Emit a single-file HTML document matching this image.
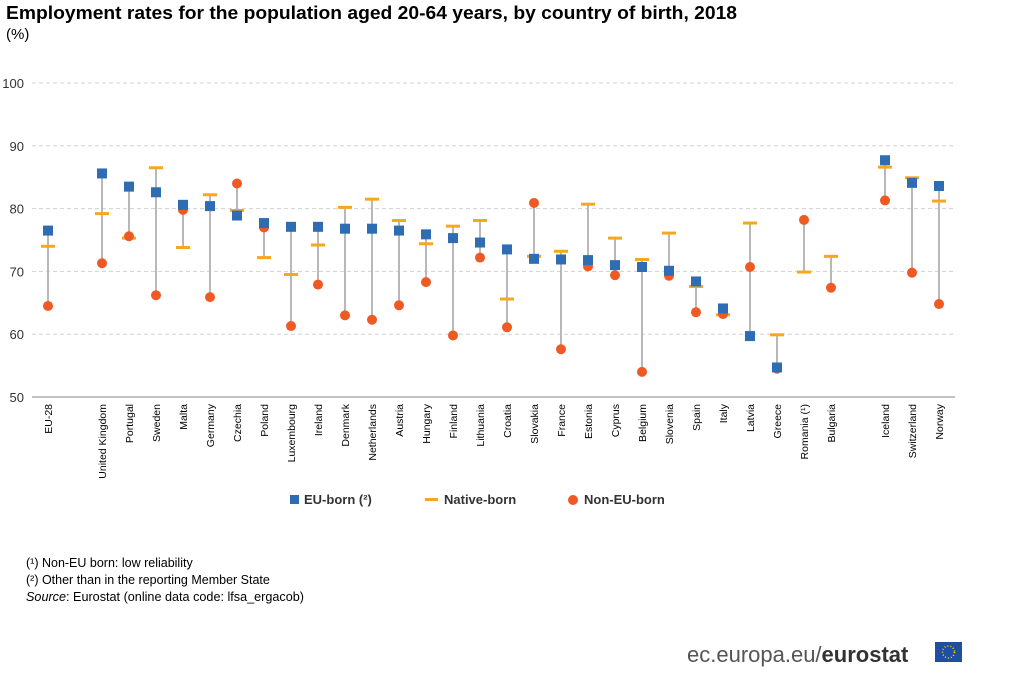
<!DOCTYPE html>
<html><head><meta charset="utf-8"><style>
body{margin:0;background:#fff;width:1024px;height:671px;overflow:hidden;font-family:"Liberation Sans",Arial,sans-serif}
</style></head><body>
<svg width="1024" height="671" xmlns="http://www.w3.org/2000/svg" font-family="Liberation Sans, Arial, sans-serif">
<text x="6" y="19" font-size="18" font-weight="bold" fill="#000" textLength="731" lengthAdjust="spacingAndGlyphs">Employment rates for the population aged 20-64 years, by country of birth, 2018</text>
<text x="6" y="39" font-size="15" fill="#000">(%)</text>
<g id="grid" stroke="#d0d0d0" stroke-dasharray="4,3"></g>
<line x1="32" y1="397" x2="955" y2="397" stroke="#888"/>
<g id="ylab" font-size="13" fill="#333" text-anchor="end"></g>
<g id="lines" stroke="#b8b8b8" stroke-width="2"></g>
<g id="pts"></g>
<g id="xlab" font-size="10.5" fill="#000"></g>
<rect x="290" y="495" width="9" height="9" fill="#2e6db4"/>
<text x="304" y="504" font-size="13" font-weight="bold" fill="#333">EU-born (²)</text>
<rect x="425" y="498" width="13" height="3" fill="#f5a81c"/>
<text x="444" y="504" font-size="13" font-weight="bold" fill="#333">Native-born</text>
<circle cx="573" cy="500" r="5" fill="#ef5a24"/>
<text x="584" y="504" font-size="13" font-weight="bold" fill="#333">Non-EU-born</text>
<g font-size="12.5" fill="#000">
<text x="26" y="567">(¹) Non-EU born: low reliability</text>
<text x="26" y="584">(²) Other than in the reporting Member State</text>
<text x="26" y="601" textLength="278" lengthAdjust="spacingAndGlyphs"><tspan font-style="italic">Source</tspan>:  Eurostat (online data code: lfsa_ergacob)</text>
</g>
<text x="687" y="662" font-size="22" fill="#555">ec.europa.eu/<tspan font-weight="bold" fill="#333">eurostat</tspan></text>
<rect x="935" y="642" width="27" height="20" fill="#1f4ea3"/>
<circle cx="948.5" cy="652" r="6" fill="none" stroke="#ffdd00" stroke-width="1.5" stroke-dasharray="1,2"/>
</svg>
<script>
const d=[["EU-28",48,76.5,74,64.5],["United Kingdom",102,85.6,79.2,71.3],["Portugal",129,83.5,75.3,75.6],["Sweden",156,82.6,86.5,66.2],["Malta",183,80.6,73.8,79.8],["Germany",210,80.4,82.2,65.9],["Czechia",237,78.9,79.7,84],["Poland",264,77.7,72.2,77],["Luxembourg",291,77.1,69.5,61.3],["Ireland",318,77.1,74.2,67.9],["Denmark",345,76.8,80.2,63],["Netherlands",372,76.8,81.5,62.3],["Austria",399,76.5,78.1,64.6],["Hungary",426,75.9,74.4,68.3],["Finland",453,75.3,77.2,59.8],["Lithuania",480,74.6,78.1,72.2],["Croatia",507,73.5,65.6,61.1],["Slovakia",534,72,72.4,80.9],["France",561,71.9,73.2,57.6],["Estonia",588,71.8,80.7,70.8],["Cyprus",615,71,75.3,69.4],["Belgium",642,70.7,71.9,54],["Slovenia",669,70.1,76.1,69.3],["Spain",696,68.4,67.6,63.5],["Italy",723,64.1,63.1,63.2],["Latvia",750,59.7,77.7,70.7],["Greece",777,54.7,59.9,54.5],["Romania (¹)",804,null,69.9,78.2],["Bulgaria",831,null,72.4,67.4],["Iceland",885,87.7,86.6,81.3],["Switzerland",912,84.1,84.9,69.8],["Norway",939,83.6,81.2,64.8]];
const Y=v=>397-(v-50)*6.28;const ns="http://www.w3.org/2000/svg";
function el(p,t,a,txt){const e=document.createElementNS(ns,t);for(const k in a)e.setAttribute(k,a[k]);if(txt)e.textContent=txt;document.getElementById(p).appendChild(e);}
for(let v=60;v<=100;v+=10)el("grid","line",{x1:32,x2:955,y1:Y(v),y2:Y(v)});
for(let v=50;v<=100;v+=10)el("ylab","text",{x:24,y:Y(v)+5},String(v));
d.forEach(([n,x,e,na,no])=>{const vs=[e,na,no].filter(v=>v!=null);el("lines","line",{x1:x,x2:x,y1:Y(Math.max(...vs)),y2:Y(Math.min(...vs))});
el("pts","rect",{x:x-7,y:Y(na)-1.5,width:14,height:3,fill:"#f5a81c"});
el("pts","circle",{cx:x,cy:Y(no),r:5,fill:"#ef5a24"});
if(e!=null)el("pts","rect",{x:x-5,y:Y(e)-5,width:10,height:10,fill:"#2e6db4"});
el("xlab","text",{x:0,y:0,transform:`translate(${x+4},404) rotate(-90)`,"text-anchor":"end"},n);});
</script>
</body></html>
